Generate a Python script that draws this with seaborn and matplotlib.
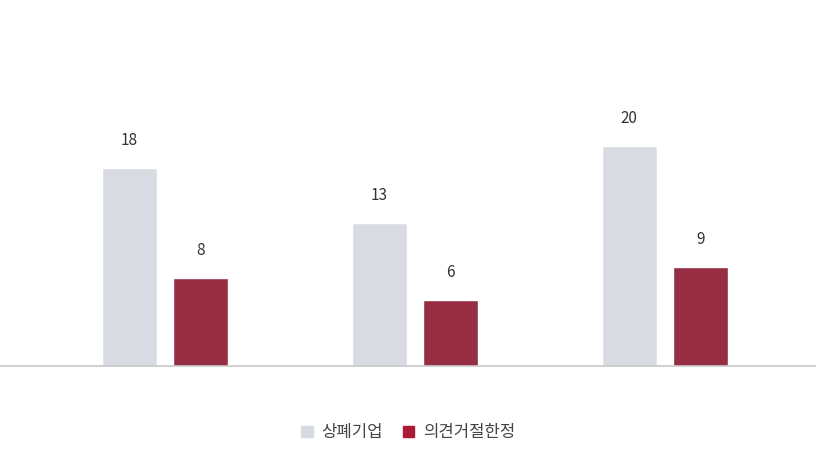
import matplotlib
matplotlib.use("Agg")
import matplotlib.pyplot as plt
import seaborn as sns
import pandas as pd

groups = ["A", "B", "C"]
series = ["상폐기업", "의견거절한정"]
delisted = [18, 13, 20]
rejected = [8, 6, 9]
colors = ["#d6dbe3", "#a91b37"]

df = pd.DataFrame({
    "group": groups * 2,
    "series": [series[0]] * 3 + [series[1]] * 3,
    "value": delisted + rejected,
})

sns.set_style("white")
plt.rcParams["font.family"] = ["Noto Sans CJK KR", "DejaVu Sans"]

fig = plt.figure(figsize=(8.16, 4.59), dpi=100)
ax = fig.add_axes([0, 0.2026, 1, 0.7974])
sns.barplot(data=df, x="group", y="value", hue="series", palette=colors,
            width=0.572, gap=0.23, ax=ax, legend=False)

for c in ax.containers:
    ax.bar_label(c, padding=14, fontsize=11, color="#333333")

ax.set_xlim(-0.66, 2.604)
ax.set_ylim(0, 33.3)
ax.set_xlabel("")
ax.set_ylabel("")
ax.set_xticks([])
ax.set_yticks([])
for s in ["top", "left", "right"]:
    ax.spines[s].set_visible(False)
ax.spines["bottom"].set_color("#c8c8c8")
ax.spines["bottom"].set_linewidth(1.2)

handles = [plt.Rectangle((0, 0), 1, 1, color=col) for col in colors]
fig.legend(handles, series, loc="center", bbox_to_anchor=(0.5, 0.057),
           ncol=2, frameon=False, fontsize=12, handlelength=0.7,
           handleheight=0.7, columnspacing=1.2, handletextpad=0.5,
           labelcolor="#444444")

fig.savefig("out.png", dpi=100)
